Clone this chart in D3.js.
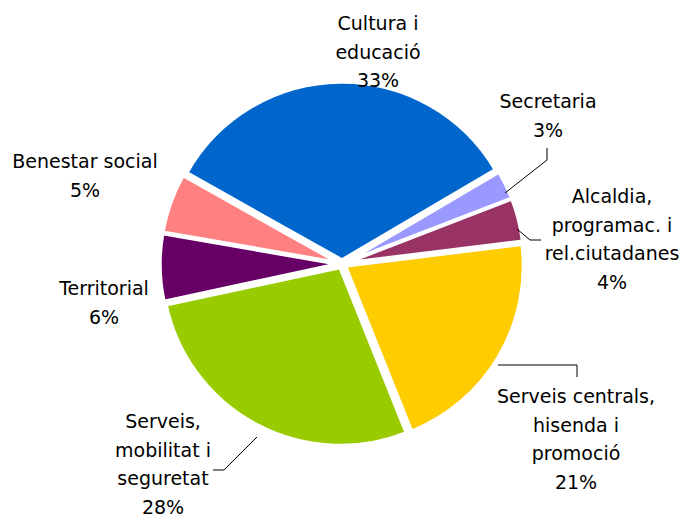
<!DOCTYPE html>
<html>
<head>
<meta charset="utf-8">
<script src="https://cdn.jsdelivr.net/npm/d3@7/dist/d3.min.js"></script>
<style>
html,body{margin:0;padding:0;background:#fff;}
svg{display:block;}
text{font-family:"DejaVu Sans",Verdana,sans-serif;font-size:19px;fill:#000;}
</style>
</head>
<body>
<svg id="chart" width="681" height="524"></svg>
<script>
const categories = ["Cultura i educació","Secretaria","Alcaldia, programac. i rel.ciutadanes","Serveis centrals, hisenda i promoció","Serveis, mobilitat i seguretat","Territorial","Benestar social"];
const values = [33.4,2.6,3.9,20.9,27.7,6.1,5.4];
const labelLines = [["Cultura i","educació"],["Secretaria"],["Alcaldia,","programac. i","rel.ciutadanes"],["Serveis centrals,","hisenda i","promoció"],["Serveis,","mobilitat i","seguretat"],["Territorial"],["Benestar social"]];
const colors = ["#0066CC","#9999FF","#993366","#FFCC00","#99CC00","#660066","#FF8080"];

// layout (not data)
const W = 681, H = 524;
const cx = 342, cy = 264, R = 178, explode = 4;
const rotationDeg = -60.7;
const labelPos = [[378,30],[548,108],[612,203],[576,403],[163,428],[104,295],[85,168]];
const lineH = 28.5;
const leaders = [null,
  [[505,193],[547,160],[547,148]],
  [[517,229],[530,240],[541,240]],
  [[498,365],[577,365],[577,377]],
  [[257,437],[224,470],[213,470]],
  null,null];

const svg = d3.select("#chart");
const total = d3.sum(values);
const startA = rotationDeg * Math.PI / 180;
const pie = d3.pie().sort(null).value(d => d).startAngle(startA).endAngle(startA + 2*Math.PI);
const arcs = pie(values);
const arc = d3.arc().innerRadius(0).outerRadius(R);
const color = d3.scaleOrdinal().domain(categories).range(colors);

const g = svg.append("g").attr("transform", `translate(${cx},${cy})`);
g.selectAll("path.slice").data(arcs).enter().append("path")
  .attr("class","slice")
  .attr("d", arc)
  .attr("fill", (d,i) => color(categories[i]))
  .attr("stroke","#fff")
  .attr("stroke-width",3.5)
  .attr("stroke-linejoin","miter")
  .attr("transform", d => {
    const m = (d.startAngle + d.endAngle)/2;
    return `translate(${explode*Math.sin(m)},${-explode*Math.cos(m)})`;
  });

const line = d3.line();
leaders.forEach(p => {
  if (!p) return;
  svg.append("path").attr("d", line(p)).attr("fill","none").attr("stroke","#000").attr("stroke-width",1);
});

const fmt = v => Math.round(100*v/total) + "%";
categories.forEach((c,i) => {
  const lines = labelLines[i].concat([fmt(values[i])]);
  const t = svg.append("text").attr("text-anchor","middle")
    .attr("x", labelPos[i][0]).attr("y", labelPos[i][1]);
  lines.forEach((s,k) => {
    t.append("tspan").attr("x", labelPos[i][0]).attr("y", labelPos[i][1] + k*lineH).text(s);
  });
});
</script>
</body>
</html>
